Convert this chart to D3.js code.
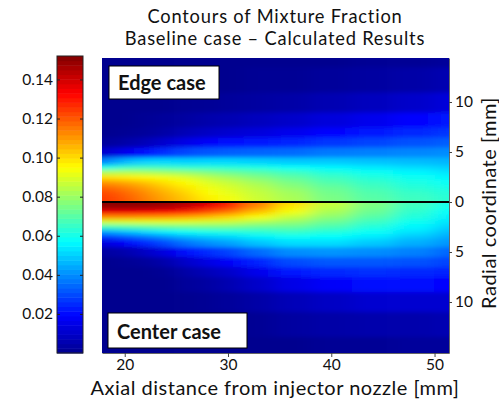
<!DOCTYPE html>
<html>
<head>
<meta charset="utf-8">
<script src="https://cdn.jsdelivr.net/npm/d3@7"></script>
<style>
	body { margin: 0; background: #fff; }
	text { font-family: Lato, "Open Sans", sans-serif; fill: #111; }
</style>
</head>
<body>
<svg id="chart" width="499" height="404"></svg>
<script>
// axial stations [mm] and radial stations [mm] of the read-off grid
var axialMm = [18, 20, 22, 24, 26, 28, 30, 33, 36, 40, 44, 48, 52];
var radialMm = [0, 0.5, 1, 1.5, 2, 2.5, 3, 3.5, 4, 5, 6, 7, 8, 10, 12, 15];

// upper half ("Edge case"): one radial profile per axial station
var edgeCase = [
	[.125,.124,.122,.118,.111,.100,.083,.060,.038,.010,.002,0,0,0,0,0],
	[.121,.120,.118,.114,.108,.098,.084,.066,.046,.016,.004,.001,0,0,0,0],
	[.115,.114,.112,.109,.104,.096,.083,.067,.050,.021,.007,.002,.001,0,0,0],
	[.109,.108,.106,.103,.099,.093,.081,.066,.051,.026,.011,.004,.002,0,0,0],
	[.104,.103,.101,.098,.095,.090,.079,.064,.050,.030,.015,.007,.003,.001,0,0],
	[.098,.097,.095,.093,.090,.085,.076,.064,.051,.032,.018,.009,.005,.001,0,0],
	[.094,.093,.091,.089,.086,.081,.073,.063,.051,.033,.020,.011,.006,.002,0,0],
	[.088,.087,.086,.084,.081,.076,.070,.061,.050,.034,.022,.013,.008,.003,.001,0],
	[.083,.082,.081,.078,.075,.071,.066,.058,.049,.035,.024,.016,.010,.004,.001,0],
	[.076,.075,.074,.072,.069,.066,.062,.056,.049,.037,.027,.019,.013,.006,.002,0],
	[.071,.070,.069,.067,.065,.062,.059,.054,.048,.038,.029,.022,.016,.008,.003,.001],
	[.067,.066,.065,.063,.061,.059,.056,.052,.047,.039,.031,.025,.019,.010,.004,.001],
	[.064,.063,.062,.060,.058,.056,.053,.050,.046,.040,.033,.027,.022,.013,.006,.002]
];

// lower half ("Center case")
var centerCase = [
	[.151,.148,.135,.112,.088,.066,.042,.026,.013,.003,0,0,0,0,0,0],
	[.151,.148,.135,.112,.089,.068,.047,.031,.018,.005,.001,0,0,0,0,0],
	[.150,.147,.134,.111,.090,.070,.051,.036,.024,.009,.002,0,0,0,0,0],
	[.149,.145,.132,.110,.090,.072,.055,.041,.030,.014,.005,.001,0,0,0,0],
	[.146,.141,.128,.108,.090,.073,.058,.046,.036,.020,.010,.004,.002,0,0,0],
	[.140,.135,.122,.105,.088,.074,.060,.049,.040,.025,.014,.007,.003,.001,0,0],
	[.130,.126,.115,.101,.087,.074,.061,.051,.043,.029,.018,.010,.006,.002,0,0],
	[.115,.112,.104,.094,.083,.072,.063,.055,.048,.035,.024,.016,.010,.004,.001,0],
	[.101,.098,.093,.086,.079,.072,.065,.058,.052,.040,.030,.022,.015,.007,.003,0],
	[.087,.085,.082,.078,.073,.068,.062,.057,.052,.041,.032,.025,.018,.009,.004,.001],
	[.076,.075,.073,.070,.066,.062,.058,.054,.049,.040,.032,.026,.020,.011,.005,.001],
	[.067,.066,.064,.062,.059,.056,.053,.049,.045,.038,.031,.025,.020,.011,.005,.002],
	[.060,.059,.057,.055,.053,.050,.047,.044,.041,.034,.029,.024,.019,.011,.006,.002]
];

var colorbarTicks = [0.02, 0.04, 0.06, 0.08, 0.1, 0.12, 0.14];
var radialTicks = [-10, -5, 0, 5, 10];
var axialTicks = [20, 30, 40, 50];

var svg = d3.select("#chart");

// scales
var x = d3.scaleLinear().domain([17.8, 51.4]).range([102, 449]),
	y = d3.scaleLinear().domain([-15.1, 14.4]).range([353, 58]),
	cb = d3.scaleLinear().domain([0, 0.152]).range([353, 56]);
var zMax = 0.152;
var jet = d3.scaleLinear()
	.domain([0, 0.125, 0.375, 0.625, 0.875, 1].map(function(t) { return t * zMax; }))
	.range(["#00008f", "#0000ff", "#00ffff", "#ffff00", "#ff0000", "#800000"])
	.clamp(true);

var defs = svg.append("defs");
defs.append("filter")
	.attr("id", "soft")
	.attr("filterUnits", "userSpaceOnUse")
	.attr("x", 0).attr("y", 0).attr("width", 499).attr("height", 404)
  .append("feGaussianBlur")
	.attr("stdDeviation", "10 2");
defs.append("clipPath").attr("id", "clipTop")
  .append("rect")
	.attr("x", x(17.8)).attr("y", y(14.4))
	.attr("width", x(51.4) - x(17.8)).attr("height", y(0) - y(14.4));
defs.append("clipPath").attr("id", "clipBottom")
  .append("rect")
	.attr("x", x(17.8)).attr("y", y(0))
	.attr("width", x(51.4) - x(17.8)).attr("height", y(-15.1) - y(0));

// cell edges half way between stations, outer cells stretched past the plot
function edges(arr, lo, hi) {
	return arr.map(function(v, i) {
		var a = i == 0 ? lo : (arr[i - 1] + v) / 2,
			b = i == arr.length - 1 ? hi : (arr[i + 1] + v) / 2;
		return [a, b];
	});
}
var xEdges = edges(axialMm, 12, 58),
	rEdges = edges(radialMm, -2, 22);

function drawHalf(data, sign, clip) {
	var cells = [];
	data.forEach(function(profile, i) {
		profile.forEach(function(v, j) {
			cells.push({x0: xEdges[i][0], x1: xEdges[i][1],
				r0: rEdges[j][0] * sign, r1: rEdges[j][1] * sign, v: v});
		});
	});
	svg.append("g")
		.attr("clip-path", "url(#" + clip + ")")
	  .append("g")
		.attr("filter", "url(#soft)")
		.selectAll("rect")
		.data(cells)
		.enter().append("rect")
		.attr("x", function(d) { return x(d.x0); })
		.attr("width", function(d) { return x(d.x1) - x(d.x0) + 0.5; })
		.attr("y", function(d) { return Math.min(y(d.r0), y(d.r1)); })
		.attr("height", function(d) { return Math.abs(y(d.r1) - y(d.r0)) + 0.5; })
		.attr("fill", function(d) { return jet(d.v); });
}
drawHalf(edgeCase, 1, "clipTop");
drawHalf(centerCase, -1, "clipBottom");

// centre line
svg.append("line")
	.attr("x1", x(17.8)).attr("x2", x(51.4))
	.attr("y1", y(0)).attr("y2", y(0))
	.attr("stroke", "#000")
	.attr("stroke-width", 2);

// axes
var xAxis = svg.append("g")
	.attr("transform", "translate(0," + y(-15.1) + ")")
	.call(d3.axisBottom(x).tickValues(axialTicks).tickSize(4).tickSizeOuter(0).tickPadding(2));
var yAxis = svg.append("g")
	.attr("transform", "translate(" + x(51.4) + ",0)")
	.call(d3.axisRight(y).tickValues(radialTicks).tickSize(3).tickSizeOuter(0).tickPadding(3)
		.tickFormat(function(d) { return Math.abs(d); }));
[xAxis, yAxis].forEach(function(a) {
	a.select(".domain").attr("stroke", "#666");
	a.selectAll(".tick line").attr("stroke", "#444");
	a.selectAll("text").attr("font-size", 15.5).attr("font-family", null).attr("fill", "#111");
});

// colorbar
var bands = d3.range(64);
svg.append("g").selectAll("rect")
	.data(bands)
	.enter().append("rect")
	.attr("x", 57)
	.attr("width", 26)
	.attr("y", function(i) { return cb((i + 1) / 64 * zMax); })
	.attr("height", function(i) { return cb(i / 64 * zMax) - cb((i + 1) / 64 * zMax) + 0.5; })
	.attr("fill", function(i) { return jet((i + 0.5) / 64 * zMax); });
svg.append("rect")
	.attr("x", 57).attr("y", cb(zMax))
	.attr("width", 26).attr("height", cb(0) - cb(zMax))
	.attr("fill", "none").attr("stroke", "#222");
var cbLeft = svg.append("g")
	.attr("transform", "translate(57,0)")
	.call(d3.axisLeft(cb).tickValues(colorbarTicks).tickSize(-3).tickPadding(4));
var cbRight = svg.append("g")
	.attr("transform", "translate(83,0)")
	.call(d3.axisRight(cb).tickValues(colorbarTicks).tickSize(-3).tickFormat(""));
[cbLeft, cbRight].forEach(function(a) {
	a.select(".domain").remove();
	a.selectAll(".tick line").attr("stroke", "#222");
	a.selectAll("text").attr("font-size", 15.5).attr("font-family", null).attr("fill", "#111");
});

// case labels
function caseBox(label, bx, by, bw, bh) {
	svg.append("rect")
		.attr("x", bx).attr("y", by).attr("width", bw).attr("height", bh)
		.attr("fill", "#fff").attr("stroke", "#000");
	svg.append("text")
		.attr("x", bx + 9).attr("y", by + bh - 9)
		.attr("font-size", 20).attr("font-weight", "bold")
		.text(label);
}
caseBox("Edge case", 109, 66, 110, 33);
caseBox("Center case", 108, 313, 139, 35);

// titles and axis labels
svg.append("text")
	.attr("x", 275).attr("y", 22.5)
	.attr("text-anchor", "middle").attr("font-size", 18.3)
	.attr("letter-spacing", 0.8)
	.text("Contours of Mixture Fraction");
svg.append("text")
	.attr("x", 275).attr("y", 44.8)
	.attr("text-anchor", "middle").attr("font-size", 18.3)
	.attr("letter-spacing", 0.8)
	.text("Baseline case \u2013 Calculated Results");
svg.append("text")
	.attr("x", 275).attr("y", 394.5)
	.attr("text-anchor", "middle").attr("font-size", 20)
	.attr("letter-spacing", 0.5)
	.text("Axial distance from injector nozzle [mm]");
svg.append("text")
	.attr("transform", "translate(496,203) rotate(-90)")
	.attr("text-anchor", "middle").attr("font-size", 20)
	.attr("letter-spacing", 0.5)
	.text("Radial coordinate [mm]");
</script>
</body>
</html>
